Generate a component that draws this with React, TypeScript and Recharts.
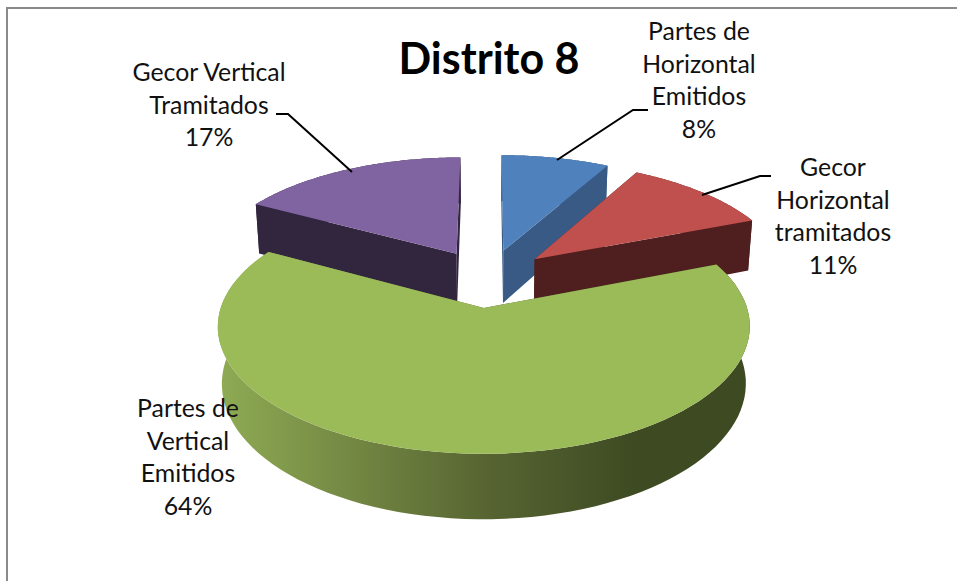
import React from "react";
import { PieChart, Pie, Cell } from "recharts";

// Data (drawing order starts with the slice that sits furthest back)
const categories = ["Gecor Vertical Tramitados", "Partes de Horizontal Emitidos", "Gecor Horizontal tramitados", "Partes de Vertical Emitidos"];
const values = [17, 8, 11, 64];
const percentLabels = ["17%", "8%", "11%", "64%"];
const title = "Distrito 8";

// Styles
const topColors = ["#8064a2", "#4f81bd", "#c0504d", "#9bbb59"];
const sideColors = ["#32263f", "#385a85", "#4f1f1f", "url(#greenWall)"];
const labelLines = [
  ["Gecor Vertical", "Tramitados"],
  ["Partes de", "Horizontal", "Emitidos"],
  ["Gecor", "Horizontal", "tramitados"],
  ["Partes de", "Vertical", "Emitidos"],
];
const labelCentres = [
  { x: 209, y: 73 },
  { x: 699, y: 32 },
  { x: 833, y: 168 },
  { x: 188, y: 409 },
];
const leaders = [
  "276,114 288,114 352,172",
  "557,160 633,110 648,110",
  "702,195 760,176 771,176",
  "",
];

const FONT = "Lato, Carlito, sans-serif";
const CX = 488;
const CY = 278;
const RADIUS = 254;
const TILT = 0.457;
const PERSPECTIVE = 0.14;
const EXPLODE = 0.25;
const DEPTH = 54;
const WALL_SHRINK = 0.985;

const total = values.reduce((a, b) => a + b, 0);
const startAngle = 90 + (values[0] / total) * 360;
const rows = categories.map((name, i) => ({ name, value: values[i] }));

type Pt = [number, number];

function project(cx: number, cy: number, r: number, u: number, v: number, low: boolean): Pt {
  const den = 1 + PERSPECTIVE * v;
  const px = (r * u) / den;
  const py = (r * TILT * v) / den;
  if (!low) return [cx + px, cy - py];
  return [cx + px * WALL_SHRINK, cy - py + DEPTH / den];
}

const toPath = (pts: Pt[]) => "M" + pts.map((p) => `${p[0].toFixed(1)},${p[1].toFixed(1)}`).join("L") + "Z";

function Slice3D(props: any) {
  const { cx, cy, outerRadius, startAngle: sa, endAngle: ea, index, fill } = props;
  const idx = index ?? categories.indexOf(props.name);
  const mid = (((sa + ea) / 2) * Math.PI) / 180;
  const ou = EXPLODE * Math.cos(mid);
  const ov = EXPLODE * Math.sin(mid);
  const steps = 90;
  const rim = (low: boolean) => {
    const out: Pt[] = [];
    for (let i = 0; i <= steps; i++) {
      const a = ((sa + ((ea - sa) * i) / steps) * Math.PI) / 180;
      out.push(project(cx, cy, outerRadius, ou + Math.cos(a), ov + Math.sin(a), low));
    }
    return out;
  };
  const top = rim(false);
  const low = rim(true);
  const apexTop = project(cx, cy, outerRadius, ou, ov, false);
  const apexLow = project(cx, cy, outerRadius, ou, ov, true);
  const side = sideColors[idx];
  return (
    <g>
      <defs>
        <linearGradient id="greenWall" gradientUnits="userSpaceOnUse" x1={218} x2={640} y1={0} y2={0}>
          <stop offset="0" stopColor="#8fab54" />
          <stop offset="0.65" stopColor="#566331" />
          <stop offset="1" stopColor="#3d4a22" />
        </linearGradient>
      </defs>
      <path d={toPath([...top, ...low.slice().reverse()])} fill={side} />
      <path d={toPath([apexTop, top[0], low[0], apexLow])} fill={side} />
      <path d={toPath([apexTop, top[steps], low[steps], apexLow])} fill={side} />
      <path d={toPath([apexTop, ...top])} fill={fill} />
    </g>
  );
}

function SliceLabel(props: any) {
  const i = props.index;
  const c = labelCentres[i];
  const lines = [...labelLines[i], percentLabels[i]];
  return (
    <g>
      {leaders[i] ? <polyline points={leaders[i]} fill="none" stroke="#000" strokeWidth={2} /> : null}
      <text textAnchor="middle" fontFamily={FONT} fontSize={24.8} fill="#111">
        {lines.map((l, k) => (
          <tspan key={k} x={c.x} y={c.y + 8 + k * 32.5}>
            {l}
          </tspan>
        ))}
      </text>
    </g>
  );
}

export default function App() {
  return (
    <div style={{ position: "absolute", left: 0, top: 0, width: 957, height: 581, background: "#fff", overflow: "hidden" }}>
      <div style={{ position: "absolute", left: 6, top: 7, width: 957, height: 600, borderLeft: "2px solid #8a8a8a", borderTop: "2px solid #8a8a8a" }} />
      <div style={{ position: "absolute", left: 0, top: 0 }}>
        <PieChart width={957} height={581} margin={{ top: 0, right: 0, bottom: 0, left: 0 }}>
          <Pie
            data={rows}
            dataKey="value"
            nameKey="name"
            cx={CX}
            cy={CY}
            outerRadius={RADIUS}
            startAngle={startAngle}
            endAngle={startAngle - 360}
            paddingAngle={0}
            stroke="none"
            isAnimationActive={false}
            shape={Slice3D}
            label={SliceLabel}
            labelLine={false}
          >
            {rows.map((r, i) => (
              <Cell key={r.name} fill={topColors[i]} />
            ))}
          </Pie>
          <text x={489} y={74} textAnchor="middle" fontFamily={FONT} fontWeight={700} fontSize={43} fill="#000">
            {title}
          </text>
        </PieChart>
      </div>
    </div>
  );
}
